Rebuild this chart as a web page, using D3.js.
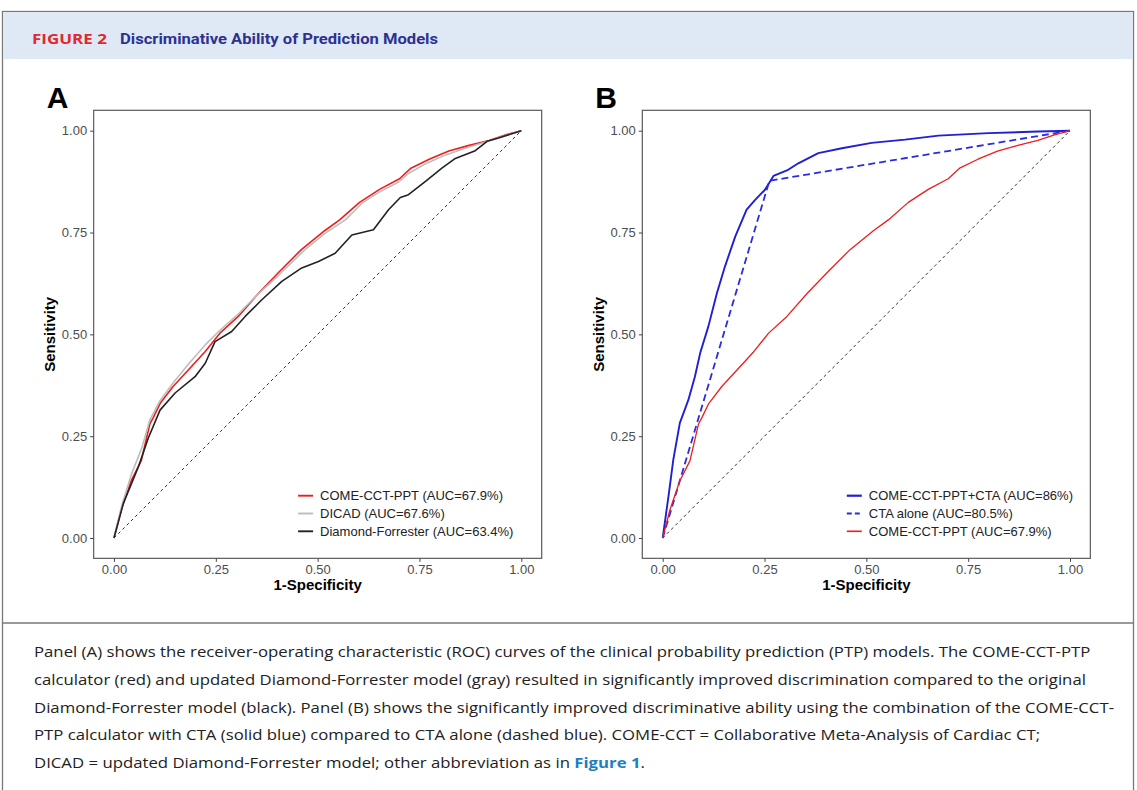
<!DOCTYPE html>
<html>
<head>
<meta charset="utf-8">
<script src="https://cdn.jsdelivr.net/npm/d3@7"></script>
<style>
  body { margin: 0; background: #fff; }
  svg { display: block; }
</style>
</head>
<body>
<svg width="1137" height="790"></svg>
<script>
// tick values shared by both panels
var ticks = [0, 0.25, 0.5, 0.75, 1]

// panel A curves, [1-specificity, sensitivity]
var comeCctPtp = [[0,0],[0.018,0.07],[0.042,0.14],[0.067,0.19],[0.088,0.28],[0.096,0.295],[0.113,0.33],
  [0.145,0.372],[0.183,0.413],[0.224,0.458],[0.26,0.503],[0.305,0.544],[0.355,0.601],[0.404,0.652],
  [0.46,0.708],[0.518,0.755],[0.554,0.781],[0.603,0.824],[0.652,0.856],[0.701,0.882],[0.729,0.908],
  [0.774,0.93],[0.822,0.95],[0.872,0.964],[0.921,0.976],[0.962,0.99],[1,1]]
var dicad = [[0,0],[0.019,0.08],[0.044,0.16],[0.068,0.22],[0.088,0.29],[0.113,0.337],[0.146,0.382],
  [0.183,0.427],[0.224,0.474],[0.26,0.51],[0.305,0.55],[0.355,0.6],[0.404,0.645],[0.469,0.708],
  [0.518,0.748],[0.568,0.781],[0.609,0.822],[0.649,0.848],[0.699,0.874],[0.723,0.895],[0.764,0.918],
  [0.813,0.94],[0.862,0.957],[0.912,0.972],[0.961,0.988],[1,1]]
var diamondForrester = [[0,0],[0.023,0.085],[0.06,0.175],[0.084,0.245],[0.113,0.314],[0.15,0.356],
  [0.199,0.396],[0.224,0.429],[0.248,0.482],[0.289,0.507],[0.322,0.544],[0.363,0.585],[0.412,0.63],
  [0.461,0.663],[0.502,0.679],[0.543,0.699],[0.584,0.744],[0.637,0.757],[0.674,0.806],[0.703,0.836],
  [0.723,0.843],[0.764,0.875],[0.805,0.908],[0.838,0.932],[0.887,0.951],[0.916,0.974],[0.944,0.982],[1,1]]

// panel B curves
var ptpPlusCta = [[0,0],[0.014,0.101],[0.026,0.192],[0.042,0.282],[0.063,0.339],[0.079,0.396],
  [0.092,0.454],[0.112,0.519],[0.133,0.601],[0.153,0.667],[0.178,0.74],[0.206,0.806],[0.227,0.83],
  [0.251,0.855],[0.272,0.889],[0.308,0.904],[0.333,0.92],[0.382,0.945],[0.44,0.957],[0.513,0.97],
  [0.595,0.978],[0.677,0.988],[0.8,0.994],[0.922,0.998],[1,1]]
var ctaAlone = [[0,0],[0.262,0.877],[1,1]]

var tickLabels = ["0.00", "0.25", "0.50", "0.75", "1.00"]
var legendA = ["COME-CCT-PPT (AUC=67.9%)", "DICAD (AUC=67.6%)", "Diamond-Forrester (AUC=63.4%)"]
var legendB = ["COME-CCT-PPT+CTA (AUC=86%)", "CTA alone (AUC=80.5%)", "COME-CCT-PPT (AUC=67.9%)"]

var captionLines = [
  "Panel (A) shows the receiver-operating characteristic (ROC) curves of the clinical probability prediction (PTP) models. The COME-CCT-PTP",
  "calculator (red) and updated Diamond-Forrester model (gray) resulted in significantly improved discrimination compared to the original",
  "Diamond-Forrester model (black). Panel (B) shows the significantly improved discriminative ability using the combination of the COME-CCT-",
  "PTP calculator with CTA (solid blue) compared to CTA alone (dashed blue). COME-CCT = Collaborative Meta-Analysis of Cardiac CT;",
  "DICAD = updated Diamond-Forrester model; other abbreviation as in "
]

var svg = d3.select("svg")
var sans = "Liberation Sans, Arial, sans-serif"

// frame + header band
svg.append("rect").attr("x", 2.5).attr("y", 11.5).attr("width", 1131).attr("height", 800)
  .attr("fill", "#fff").attr("stroke", "#777").attr("stroke-width", 1.3)
svg.append("rect").attr("x", 3.2).attr("y", 12.2).attr("width", 1129.6).attr("height", 46.8)
  .attr("fill", "#dfe9f5")
svg.append("line").attr("x1", 2.5).attr("x2", 1133.5).attr("y1", 623).attr("y2", 623)
  .attr("stroke", "#777").attr("stroke-width", 1.3)

svg.append("text").attr("x", 32).attr("y", 43.5).text("FIGURE 2")
  .attr("font-family", "Open Sans, sans-serif").attr("font-weight", "bold").attr("font-size", 14)
  .attr("fill", "#e3262f").attr("textLength", 75).attr("lengthAdjust", "spacingAndGlyphs")
svg.append("text").attr("x", 120).attr("y", 43.5).text("Discriminative Ability of Prediction Models")
  .attr("font-family", "Roboto, sans-serif").attr("font-weight", "bold").attr("font-size", 15.5)
  .attr("fill", "#2e3192").attr("textLength", 318).attr("lengthAdjust", "spacingAndGlyphs")

function drawPanel(x0, letter, series, legend) {
  var x = d3.scaleLinear().domain([0, 1]).range([x0, x0 + 407.3])
  var y = d3.scaleLinear().domain([0, 1]).range([538, 130.7])
  var g = svg.append("g")

  g.append("text").attr("x", x(-0.05) - 47).attr("y", 108).text(letter)
    .attr("font-family", sans).attr("font-weight", "bold").attr("font-size", 30).attr("fill", "#000")

  // reference diagonal
  g.append("path").attr("d", d3.line()([[x(0), y(0)], [x(1), y(1)]]))
    .attr("stroke", "#333").attr("stroke-width", 1).attr("stroke-dasharray", "3,3").attr("fill", "none")

  var line = d3.line().x(function(d) { return x(d[0]) }).y(function(d) { return y(d[1]) })
  series.forEach(function(s) {
    g.append("path").datum(s.data).attr("d", line).attr("fill", "none")
      .attr("stroke", s.color).attr("stroke-width", s.width)
      .attr("stroke-dasharray", s.dash || null).attr("stroke-linejoin", "round")
  })

  // panel border
  g.append("rect").attr("x", x(-0.05)).attr("y", y(1.05))
    .attr("width", x(1.05) - x(-0.05)).attr("height", y(-0.05) - y(1.05))
    .attr("fill", "none").attr("stroke", "#666").attr("stroke-width", 1.3)

  var xAxis = d3.axisBottom(x).tickValues(ticks).tickFormat(function(d, i) { return tickLabels[i] })
    .tickSize(3.5).tickPadding(3)
  var yAxis = d3.axisLeft(y).tickValues(ticks).tickFormat(function(d, i) { return tickLabels[i] })
    .tickSize(3.5).tickPadding(3)
  var gx = g.append("g").attr("transform", "translate(0," + y(-0.05) + ")").call(xAxis)
  var gy = g.append("g").attr("transform", "translate(" + x(-0.05) + ",0)").call(yAxis)
  ;[gx, gy].forEach(function(a) {
    a.select(".domain").remove()
    a.selectAll("line").attr("stroke", "#444")
    a.selectAll("text").attr("font-family", sans).attr("font-size", 13).attr("fill", "#4d4d4d")
  })

  g.append("text").attr("x", x(0.5)).attr("y", 590).attr("text-anchor", "middle").text("1-Specificity")
    .attr("font-family", sans).attr("font-weight", "bold").attr("font-size", 15)
  g.append("text").attr("transform", "translate(" + (x(-0.05) - 38.5) + "," + y(0.5) + ") rotate(-90)")
    .attr("text-anchor", "middle").text("Sensitivity")
    .attr("font-family", sans).attr("font-weight", "bold").attr("font-size", 15)

  // legend
  var lx = x(0.452)
  legend.forEach(function(label, i) {
    var s = series[i]
    var ly = 495.7 + i * 17.8
    g.append("line").attr("x1", lx).attr("x2", lx + 15).attr("y1", ly).attr("y2", ly)
      .attr("stroke", s.color).attr("stroke-width", s.width + 0.3)
      .attr("stroke-dasharray", s.dash ? "5,3" : null)
    g.append("text").attr("x", lx + 22).attr("y", ly + 4.6).text(label)
      .attr("font-family", sans).attr("font-size", 13).attr("fill", "#222")
  })
}

drawPanel(114, "A", [
  { data: comeCctPtp, color: "#ee1c1c", width: 1.6 },
  { data: dicad, color: "#bdbdbd", width: 1.6 },
  { data: diamondForrester, color: "#222", width: 1.6 }
], legendA)
// CTA curves drawn in B, legend order matches
drawPanel(662.7, "B", [
  { data: ptpPlusCta, color: "#1f1fd6", width: 1.9 },
  { data: ctaAlone, color: "#2b2be0", width: 1.8, dash: "7,4" },
  { data: comeCctPtp, color: "#ee1c1c", width: 1.3 }
], legendB)

// caption; the source face is wider than Open Sans, so stretch horizontally
var cap = svg.append("g").attr("transform", "scale(1.117,1)")
  .attr("font-family", "Open Sans, sans-serif").attr("font-size", 15).attr("fill", "#222")
captionLines.forEach(function(t, i) {
  var tx = cap.append("text").attr("x", 34 / 1.117).attr("y", 657 + i * 27.8).text(t)
  if (i == captionLines.length - 1) {
    tx.append("tspan").text("Figure 1").attr("font-weight", "bold").attr("fill", "#1b7fc0")
    tx.append("tspan").text(".")
  }
})
</script>
</body>
</html>
